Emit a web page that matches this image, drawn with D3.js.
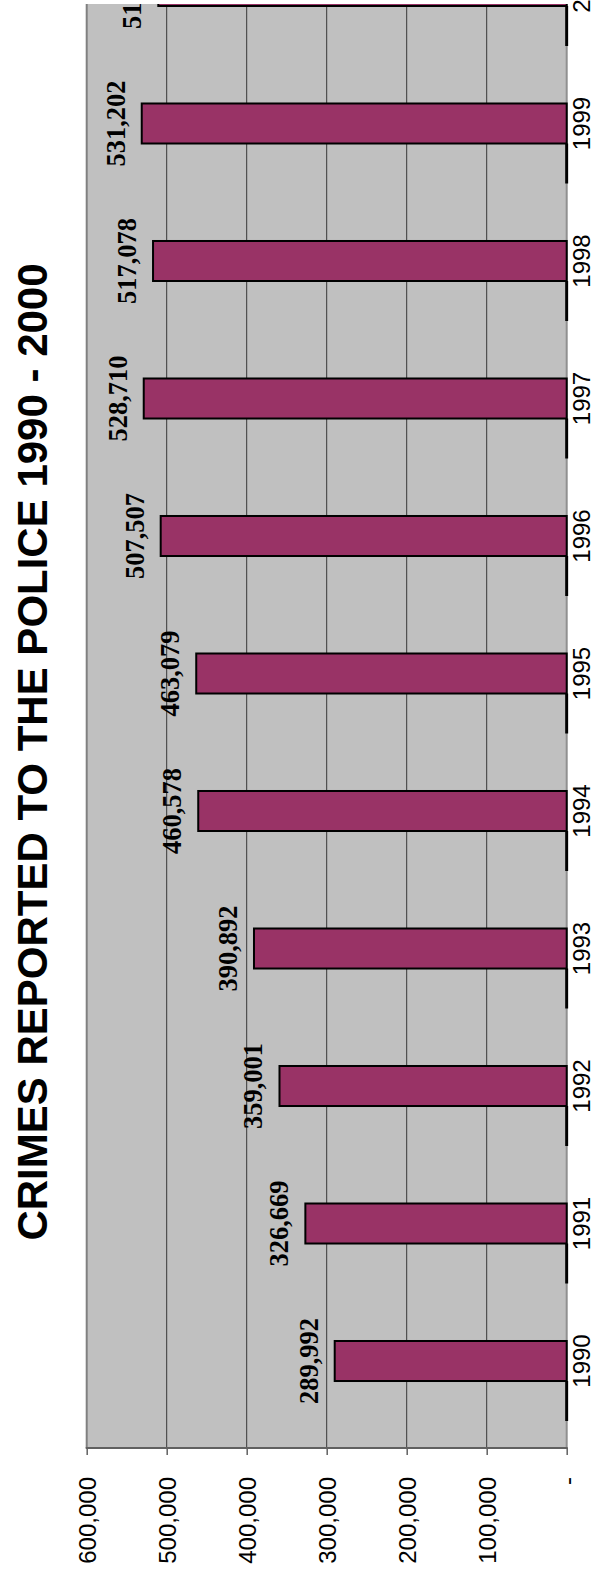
<!DOCTYPE html>
<html>
<head>
<meta charset="utf-8">
<script src="https://cdn.jsdelivr.net/npm/d3@7"></script>
<style>
    body { margin: 0; background: #ffffff; }
    svg { display: block; }
    .title { font-family: "Liberation Sans", Arial, sans-serif; font-weight: bold; font-size: 42px; }
    .axis text { font-family: "Liberation Sans", Arial, sans-serif; font-size: 24px; fill: #000; }
    .value-label { font-family: "Liberation Serif", "Times New Roman", serif; font-weight: bold; font-size: 26.5px; }
</style>
</head>
<body>
<svg id="vis_svg" width="592" height="1573"></svg>
<script>
// the data
let years = ['1990', '1991', '1992', '1993', '1994', '1995', '1996', '1997', '1998', '1999', '2000'];
let crimes = [289992, 326669, 359001, 390892, 460578, 463079, 507507, 528710, 517078, 531202, 510500];
let valueTicks = [0, 100000, 200000, 300000, 400000, 500000, 600000];
let titleText = 'CRIMES REPORTED TO THE POLICE 1990 - 2000';

let svg;
let xScale;
let yScale;
let numberFormat;

/**
 * Set things up and draw. The chart is a column chart turned on its side,
 * so values run right to left and the years run bottom to top.
 */
function prepVis() {
    svg = d3.select('svg#vis_svg');
    numberFormat = d3.format(',');

    // plot area edges
    let plot = {left: 86.7, right: 566.7, top: 4, bottom: 1448};

    xScale = d3.scaleLinear()
        .domain([0, 600000])
        .range([plot.right, plot.left]);

    // 2000 sits above the top edge, so it is mostly clipped away
    yScale = d3.scaleBand()
        .domain(years.slice().reverse())
        .range([-131.5, 1478.5])
        .padding(0.709);

    let rows = years.map((y, i) => ({year: y, value: crimes[i]}));

    drawVis(rows, plot);
}

/**
 * Draw everything.
 * @param rows year / value pairs
 * @param plot the plot area edges
 */
function drawVis(rows, plot) {
    svg.append('defs').append('clipPath')
        .attr('id', 'plotClip')
        .append('rect')
        .attr('x', plot.left - 2)
        .attr('y', plot.top)
        .attr('width', plot.right - plot.left + 4)
        .attr('height', plot.bottom - plot.top);

    // title
    svg.append('text')
        .attr('class', 'title')
        .attr('transform', translate(47, 752) + ' rotate(-90)')
        .attr('text-anchor', 'middle')
        .text(titleText);

    let g = svg.append('g').attr('clip-path', 'url(#plotClip)');

    // grey background
    g.append('rect')
        .attr('x', plot.left)
        .attr('y', plot.top)
        .attr('width', plot.right - plot.left)
        .attr('height', plot.bottom - plot.top)
        .style('fill', '#c0c0c0');

    // gridlines
    g.selectAll('line.grid')
        .data(valueTicks.filter(d => d > 0 && d < 600000))
        .enter()
        .append('line')
        .attr('class', 'grid')
        .attr('x1', d => xScale(d))
        .attr('x2', d => xScale(d))
        .attr('y1', plot.top)
        .attr('y2', plot.bottom)
        .style('stroke', '#383838')
        .style('stroke-width', 1);

    // plot borders
    g.append('line')
        .attr('x1', plot.left).attr('x2', plot.left)
        .attr('y1', plot.top).attr('y2', plot.bottom)
        .style('stroke', '#808080').style('stroke-width', 2);
    g.append('line')
        .attr('x1', plot.right).attr('x2', plot.right)
        .attr('y1', plot.top).attr('y2', plot.bottom)
        .style('stroke', '#909090').style('stroke-width', 2);

    // bars
    g.selectAll('rect.bar')
        .data(rows)
        .enter()
        .append('rect')
        .attr('class', 'bar')
        .attr('x', d => xScale(d.value))
        .attr('y', d => yScale(d.year))
        .attr('width', d => xScale(0) - xScale(d.value))
        .attr('height', yScale.bandwidth())
        .style('fill', '#993366')
        .style('stroke', '#000')
        .style('stroke-width', 2);

    // the heavy bits of category axis just under each bar
    g.selectAll('line.catline')
        .data(rows)
        .enter()
        .append('line')
        .attr('class', 'catline')
        .attr('x1', xScale(0))
        .attr('x2', xScale(0))
        .attr('y1', d => yScale(d.year) + yScale.bandwidth())
        .attr('y2', d => yScale(d.year) + 2 * yScale.bandwidth())
        .style('stroke', '#000')
        .style('stroke-width', 3);

    // value labels
    g.selectAll('text.value-label')
        .data(rows)
        .enter()
        .append('text')
        .attr('class', 'value-label')
        .attr('transform', d => translate(xScale(d.value) - 17, yScale(d.year) + yScale.bandwidth() / 2) + ' rotate(-90)')
        .attr('text-anchor', 'middle')
        .text(d => numberFormat(d.value));

    // bottom border
    svg.append('line')
        .attr('x1', plot.left - 1).attr('x2', plot.right + 1)
        .attr('y1', plot.bottom).attr('y2', plot.bottom)
        .style('stroke', '#606060').style('stroke-width', 2);

    // value axis (underneath)
    let xAxis = d3.axisBottom(xScale)
        .tickValues(valueTicks)
        .tickSize(7)
        .tickFormat(d => d === 0 ? '-' : numberFormat(d));

    let xg = svg.append('g')
        .attr('class', 'axis')
        .attr('transform', translate(0, plot.bottom))
        .call(xAxis);
    xg.select('.domain').remove();
    xg.selectAll('.tick line').style('stroke', '#606060').style('stroke-width', 1.5);
    xg.selectAll('.tick text')
        .attr('transform', 'rotate(-90)')
        .attr('x', -29)
        .attr('y', 0)
        .attr('dy', '0.35em')
        .attr('text-anchor', 'end');

    // category axis (right side)
    let yAxis = d3.axisRight(yScale).tickSize(0);
    let yg = svg.append('g')
        .attr('class', 'axis')
        .attr('transform', translate(plot.right, 0))
        .call(yAxis);
    yg.select('.domain').remove();
    yg.selectAll('.tick text')
        .attr('transform', 'rotate(-90)')
        .attr('x', 0)
        .attr('y', 23)
        .attr('dy', 0)
        .attr('text-anchor', 'middle');
}

/**
 * Translate helper.
 */
function translate(x, y) {
    return 'translate(' + String(x) + ',' + String(y) + ')';
}

prepVis();
</script>
</body>
</html>
